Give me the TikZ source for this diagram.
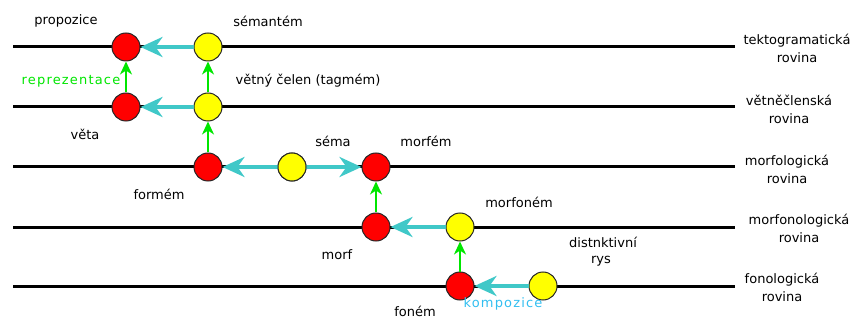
\documentclass[tikz,border=0pt]{standalone}
\usepackage{fontspec}
\setmainfont{DejaVu Sans}
\usetikzlibrary{arrows.meta}
\definecolor{cyanarr}{RGB}{64,200,200}
\definecolor{greenarr}{RGB}{0,230,0}
\definecolor{kompcol}{RGB}{50,190,240}
\definecolor{redfill}{RGB}{255,0,0}
\definecolor{yelfill}{RGB}{255,255,0}
\newfontfamily\spaced[LetterSpace=9]{DejaVu Sans}
\begin{document}
\begin{tikzpicture}[x=1pt,y=-1pt,
  level/.style={line width=3pt,black},
  rnode/.style={circle,draw=black!85,line width=1pt,fill=redfill,minimum size=28pt,inner sep=0pt},
  ynode/.style={circle,draw=black!85,line width=1pt,fill=yelfill,minimum size=28pt,inner sep=0pt},
  carr/.style={line width=4.2pt,cyanarr,-{Stealth[length=22pt,width=20pt,inset=7pt]}},
  carrd/.style={line width=4.2pt,cyanarr,{Stealth[length=22pt,width=20pt,inset=7pt]}-{Stealth[length=22pt,width=20pt,inset=7pt]}},
  garr/.style={line width=1.8pt,greenarr,-{Stealth[length=13pt,width=12pt,inset=4pt]}},
  lbl/.style={font=\fontsize{13}{15}\selectfont,inner sep=0pt},
  rlbl/.style={font=\fontsize{13}{18}\selectfont,inner sep=0pt,align=center}]
\useasboundingbox (0,0) rectangle (850,320);
% levels
\foreach \n/\y in {l1/47,l2/107,l3/167,l4/227,l5/286}{
  \coordinate (\n a) at (13,\y);
  \coordinate (\n b) at (735,\y);
  \draw[level] (\n a) -- (\n b);
}
% nodes
\node[rnode] (prop) at (126,47) {};
\node[ynode] (sem) at (208,47) {};
\node[rnode] (veta) at (126,107) {};
\node[ynode] (tag) at (208,107) {};
\node[rnode] (form) at (208,167) {};
\node[ynode] (sema) at (292,167) {};
\node[rnode] (morfem) at (376,167) {};
\node[rnode] (morf) at (376,227) {};
\node[ynode] (morfon) at (460,227) {};
\node[rnode] (fonem) at (460,286) {};
\node[ynode] (rys) at (543,286) {};
% cyan arrows
\draw[carr] (sem) -- (prop);
\draw[carr] (tag) -- (veta);
\draw[carrd] (form) -- (morfem);
\node[ynode] at (sema) {};
\draw[carr] (morfon) -- (morf);
\draw[carr] (rys) -- (fonem);
% green arrows
\draw[garr] (veta) -- (prop);
\draw[garr] (tag) -- (sem);
\draw[garr] (form) -- (tag);
\draw[garr] (morf) -- (morfem);
\draw[garr] (fonem) -- (morfon);
% labels
\node[lbl] (tprop) at (66,21) {propozice};
\node[lbl] (tsem) at (268,21) {sémantém};
\node[lbl,text=greenarr] (trep) at (71,81) {\spaced reprezentace};
\node[lbl] (ttag) at (308,81) {větný čelen (tagmém)};
\node[lbl] (tveta) at (85,134) {věta};
\node[lbl] (tsema) at (333,141) {séma};
\node[lbl] (tmorfem) at (426,141) {morfém};
\node[lbl] (tform) at (159,194) {formém};
\node[lbl] (tmorf) at (337,255) {morf};
\node[lbl] (tmorfon) at (519,202) {morfoném};
\node[lbl] (trys1) at (603,242) {distnktivní};
\node[lbl] (trys2) at (601,261) {rys};
\node[lbl] (tfonem) at (415,311) {foném};
\node[lbl,text=kompcol] (tkomp) at (503,304) {\spaced kompozice};
% right labels
\node[rlbl] (r1) at (797,48) {tektogramatická\\rovina};
\node[rlbl] (r2) at (789,109) {větněčlenská\\rovina};
\node[rlbl] (r3) at (787,169) {morfologická\\rovina};
\node[rlbl] (r4) at (799,228) {morfonologická\\rovina};
\node[rlbl] (r5) at (782,287) {fonologická\\rovina};
\end{tikzpicture}
\end{document}
